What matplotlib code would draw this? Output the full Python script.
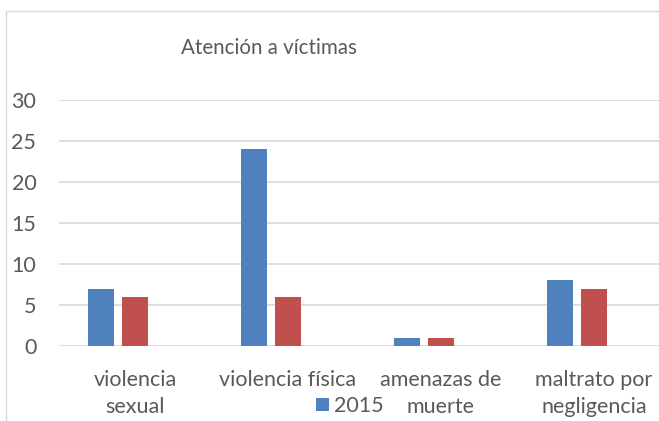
import numpy as np
import matplotlib.pyplot as plt
from matplotlib.patches import Rectangle

# data
categories = ["violencia\nsexual", "violencia física", "amenazas de\nmuerte", "maltrato por\nnegligencia"]
serie_2015 = [7, 24, 1, 8]
serie_2 = [6, 6, 1, 7]
yticks = [0, 5, 10, 15, 20, 25, 30]

BLUE = "#4F81BD"
RED = "#C0504D"
GRID = "#D9D9D9"
TEXT = "#595959"
W, H = 659, 421

plt.rcParams['font.family'] = ['Lato', 'DejaVu Sans']

fig = plt.figure(figsize=(W / 100, H / 100), dpi=100)

# chart border (only top and left visible, rest is cropped)
fig.add_artist(Rectangle((6 / W, -0.1), 1.2, 1 - 11 / H + 0.1, transform=fig.transFigure,
                         fill=False, edgecolor=GRID, lw=1))

ax = fig.add_axes([58.5 / W, 75 / H, 612 / W, 246 / H])
x = np.arange(len(categories))
step = 0.222
bw = 0.176
b1 = ax.bar(x - step, serie_2015, bw, color=BLUE, label="2015", zorder=3)
ax.bar(x, serie_2, bw, color=RED, zorder=3)

ax.set_xlim(-0.5, len(categories) - 0.5)
ax.set_ylim(0, 30)
ax.set_yticks(yticks)
ax.set_xticks(x)
ax.set_xticklabels(categories, linespacing=1.45)
ax.tick_params(axis='both', length=0, labelsize=15.5, colors=TEXT)
ax.tick_params(axis='x', pad=17)
ax.tick_params(axis='y', pad=16)
ax.grid(axis='y', color=GRID, lw=1.2, zorder=0)
for s in ax.spines.values():
    s.set_visible(False)

fig.text(269 / W, 1 - 48 / H, "Atención a víctimas", ha='center', va='center',
         fontsize=14.8, color=TEXT)

fig.legend(handles=[b1], labels=["2015"], loc='center left',
           bbox_to_anchor=(310 / W, 1 - 406 / H), frameon=False, fontsize=15.5,
           handlelength=0.6, handleheight=0.6, handletextpad=0.2, labelcolor=TEXT,
           borderpad=0.2, borderaxespad=0.1)

fig.savefig("out.png", dpi=100)
